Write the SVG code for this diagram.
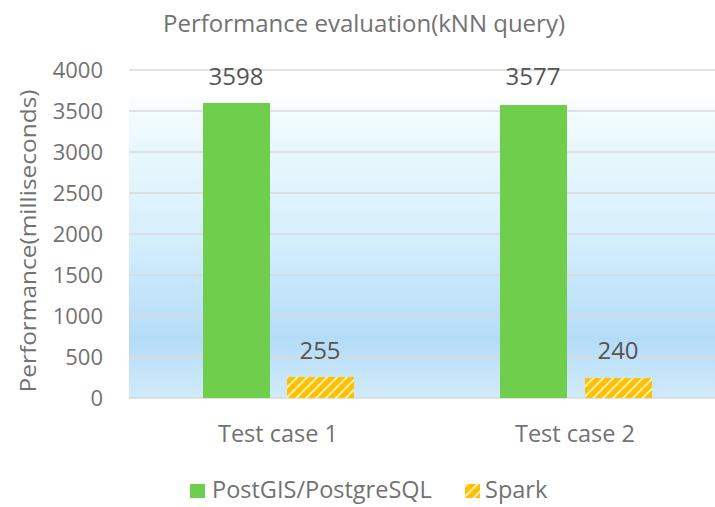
<svg xmlns="http://www.w3.org/2000/svg" width="715" height="507" viewBox="0 0 715 507">
<style>
text{font-family:"Open Sans","Liberation Sans",sans-serif;fill:#727272}
.ax{font-size:22px;text-anchor:end}
.dl{font-size:24px;text-anchor:middle;fill:#555555}
.cat{font-size:23.5px;text-anchor:middle}
.grid{stroke:#d9d9d9;stroke-width:1.5}
.green{fill:#6fce4c}
.spark{fill:url(#hatch)}
</style>
<defs>
<linearGradient id="bg" x1="0" y1="0" x2="0" y2="1">
<stop offset="0" stop-color="#ffffff"/>
<stop offset="0.07" stop-color="#ffffff"/>
<stop offset="0.15" stop-color="#f0fbfe"/>
<stop offset="0.5" stop-color="#d6effc"/>
<stop offset="0.82" stop-color="#b5dcf7"/>
<stop offset="1" stop-color="#d0ebfb"/>
</linearGradient>
<pattern id="hatch" patternUnits="userSpaceOnUse" width="7" height="7" patternTransform="rotate(45)">
<rect width="7" height="7" fill="#ffc000"/>
<rect x="0" y="0" width="1.8" height="7" fill="#fff3c8"/>
</pattern>
</defs>
<rect width="715" height="507" fill="#ffffff"/>
<rect x="129" y="70" width="586" height="328" fill="url(#bg)"/>
<g id="gridlines">
<line class="grid" x1="129" y1="70" x2="715" y2="70"/>
<line class="grid" x1="129" y1="111" x2="715" y2="111"/>
<line class="grid" x1="129" y1="152" x2="715" y2="152"/>
<line class="grid" x1="129" y1="193" x2="715" y2="193"/>
<line class="grid" x1="129" y1="234" x2="715" y2="234"/>
<line class="grid" x1="129" y1="275" x2="715" y2="275"/>
<line class="grid" x1="129" y1="316" x2="715" y2="316"/>
<line class="grid" x1="129" y1="357" x2="715" y2="357"/>
<line class="grid" x1="129" y1="398" x2="715" y2="398"/>
</g>
<text x="364" y="32" font-size="23" text-anchor="middle" textLength="402" lengthAdjust="spacingAndGlyphs">Performance evaluation(kNN query)</text>
<g id="yaxis">
<text class="ax" x="103" y="78">4000</text>
<text class="ax" x="103" y="119">3500</text>
<text class="ax" x="103" y="160">3000</text>
<text class="ax" x="103" y="201">2500</text>
<text class="ax" x="103" y="242">2000</text>
<text class="ax" x="103" y="283">1500</text>
<text class="ax" x="103" y="324">1000</text>
<text class="ax" x="103" y="365">500</text>
<text class="ax" x="103" y="406">0</text>
<text x="0" y="0" font-size="22" text-anchor="middle" textLength="303" lengthAdjust="spacingAndGlyphs" transform="translate(36,241) rotate(-90)">Performance(milliseconds)</text>
</g>
<g id="bar-pg-1"><rect class="green" x="203" y="103" width="67" height="295"/><text class="dl" x="236" y="85">3598</text></g>
<g id="bar-spark-1"><rect class="spark" x="287" y="377" width="67" height="21"/><text class="dl" x="320" y="359">255</text></g>
<g id="bar-pg-2"><rect class="green" x="500" y="105" width="67" height="293"/><text class="dl" x="533" y="85">3577</text></g>
<g id="bar-spark-2"><rect class="spark" x="585" y="378" width="67" height="20"/><text class="dl" x="618" y="359">240</text></g>
<g id="categories">
<text class="cat" x="278" y="442">Test case 1</text>
<text class="cat" x="575" y="442">Test case 2</text>
</g>
<g id="legend">
<rect class="green" x="190" y="484" width="15" height="14"/>
<text x="212" y="498" font-size="23.5">PostGIS/PostgreSQL</text>
<rect class="spark" x="465" y="484" width="15" height="14"/>
<text x="485" y="498" font-size="23.5">Spark</text>
</g>
</svg>
